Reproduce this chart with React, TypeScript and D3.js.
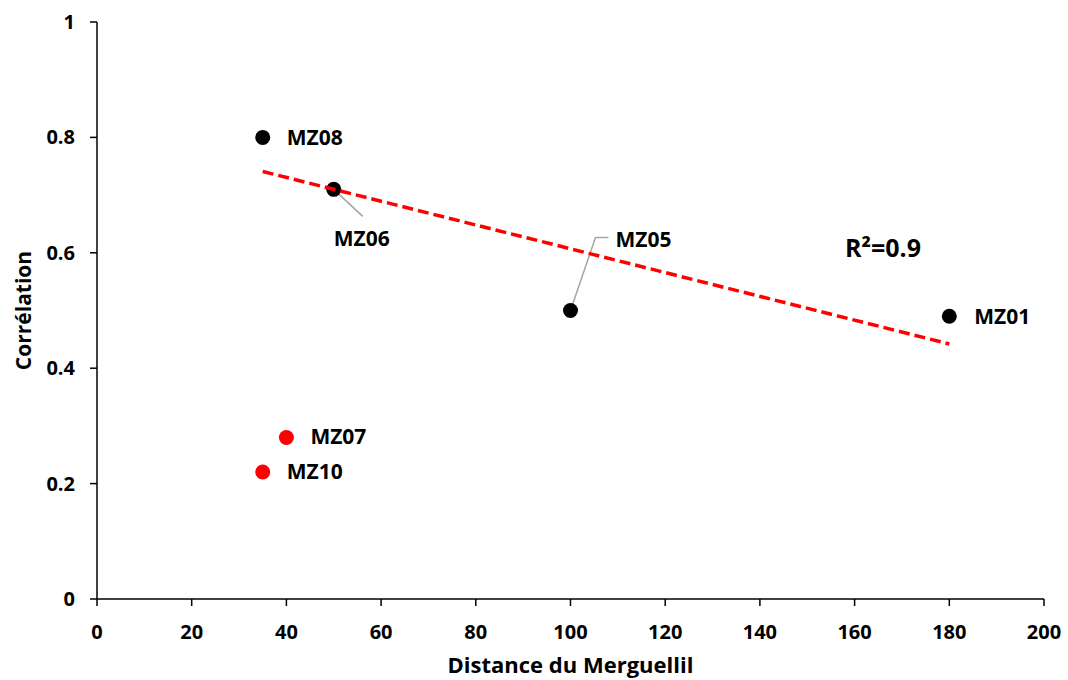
import React from "react";
import * as d3 from "d3";

const stations = ["MZ08", "MZ06", "MZ05", "MZ01", "MZ07", "MZ10"];
const distance = [35, 50, 100, 180, 40, 35];
const correlation = [0.8, 0.71, 0.5, 0.49, 0.28, 0.22];
const inTrend = [true, true, true, true, false, false];
const xTicks = [0, 20, 40, 60, 80, 100, 120, 140, 160, 180, 200];
const yTicks = [0, 0.2, 0.4, 0.6, 0.8, 1];
const r2Label = "R²=0.9";

// label placement (styling, pixel offsets from point)
const labelOffsets: Record<string, { dx: number; dy: number; leader?: [number, number][] }> = {
  MZ08: { dx: 24, dy: 8 },
  MZ06: { dx: 0, dy: 57, leader: [[0, 0], [29, 27]] },
  MZ05: { dx: 45, dy: -64, leader: [[0, 0], [25, -73], [38, -73]] },
  MZ01: { dx: 25, dy: 8 },
  MZ07: { dx: 24, dy: 7 },
  MZ10: { dx: 24, dy: 7 },
};

const W = 1068, H = 680;
const m = { left: 97, right: 24, top: 22, bottom: 81 };
const FONT = "'Open Sans', Lato, sans-serif";

export default function App() {
  const x = d3.scaleLinear().domain([0, 200]).range([m.left, W - m.right]);
  const y = d3.scaleLinear().domain([0, 1]).range([H - m.bottom, m.top]);

  const tx = distance.filter((_, i) => inTrend[i]);
  const ty = correlation.filter((_, i) => inTrend[i]);
  const mx = d3.mean(tx)!, my = d3.mean(ty)!;
  const slope = d3.sum(tx.map((v, i) => (v - mx) * (ty[i] - my))) / d3.sum(tx.map((v) => (v - mx) ** 2));
  const icpt = my - slope * mx;
  const x0 = d3.min(tx)!, x1 = d3.max(tx)!;

  return (
    <svg width={W} height={H} style={{ position: "absolute", left: 0, top: 0, background: "#fff" }} fontFamily={FONT}>
      {/* axes */}
      <line x1={x(0)} x2={x(0)} y1={y(0)} y2={y(1)} stroke="#000" strokeWidth={1.5} />
      <line x1={x(0)} x2={x(200)} y1={y(0)} y2={y(0)} stroke="#000" strokeWidth={1.5} />
      {yTicks.map((t) => (
        <g key={"y" + t}>
          <line x1={x(0) - 7} x2={x(0)} y1={y(t)} y2={y(t)} stroke="#000" strokeWidth={1.5} />
          <text x={x(0) - 22} y={y(t) + 7} textAnchor="end" fontSize={20} fontWeight="bold">{String(t)}</text>
        </g>
      ))}
      {xTicks.map((t) => (
        <g key={"x" + t}>
          <line x1={x(t)} x2={x(t)} y1={y(0)} y2={y(0) + 7} stroke="#000" strokeWidth={1.5} />
          <text x={x(t)} y={y(0) + 40} textAnchor="middle" fontSize={20} fontWeight="bold">{String(t)}</text>
        </g>
      ))}
      <text x={(x(0) + x(200)) / 2} y={673} textAnchor="middle" fontSize={22} fontWeight="bold">Distance du Merguellil</text>
      <text transform={`translate(31,${(y(0) + y(1)) / 2}) rotate(-90)`} textAnchor="middle" fontSize={21} fontWeight="bold">Corrélation</text>

      {/* leaders */}
      {stations.map((s, i) => {
        const o = labelOffsets[s];
        if (!o.leader) return null;
        const px = x(distance[i]), py = y(correlation[i]);
        return (
          <polyline key={"l" + s} points={o.leader.map(([a, b]) => `${px + a},${py + b}`).join(" ")} fill="none" stroke="#a6a6a6" strokeWidth={1.5} />
        );
      })}

      {/* points */}
      {stations.map((s, i) => (
        <circle key={"p" + s} cx={x(distance[i])} cy={y(correlation[i])} r={7.5} fill={inTrend[i] ? "#000" : "#ff0000"} />
      ))}

      {/* trendline */}
      <line x1={x(x0)} y1={y(icpt + slope * x0)} x2={x(x1)} y2={y(icpt + slope * x1)} stroke="#ff0000" strokeWidth={3.5} strokeDasharray="11 5" />

      {/* labels */}
      {stations.map((s, i) => {
        const o = labelOffsets[s];
        return (
          <text key={"t" + s} x={x(distance[i]) + o.dx} y={y(correlation[i]) + o.dy} fontSize={21} fontWeight="bold">{s}</text>
        );
      })}
      <text x={845} y={257} fontSize={25} fontWeight="bold">{r2Label}</text>
    </svg>
  );
}
